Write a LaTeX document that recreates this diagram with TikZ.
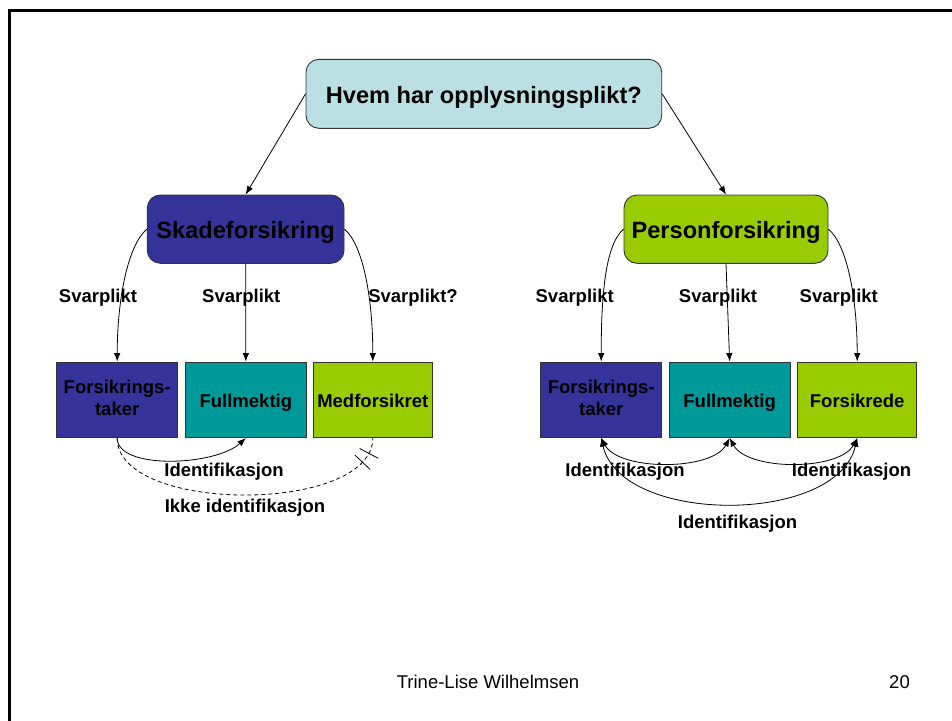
\documentclass[tikz,border=0pt]{standalone}
\usepackage{fontspec}
\setmainfont{Liberation Sans}
\usetikzlibrary{arrows.meta,decorations.markings}
\definecolor{topc}{HTML}{BBE0E3}
\definecolor{navyc}{HTML}{333399}
\definecolor{tealc}{HTML}{009999}
\definecolor{limec}{HTML}{99CC00}
\tikzset{
  box/.style={draw=black!80, line width=0.9pt, inner sep=0pt, align=center,
    font=\fontsize{18.5}{22}\selectfont\bfseries},
  onel/.style={text height=16pt, text depth=0pt},
  rbox/.style={box, rounded corners=13pt, text height=19.5pt, text depth=0pt,
    font=\fontsize{23.6}{26}\selectfont\bfseries},
  lbl/.style={inner sep=0pt, anchor=base, font=\fontsize{18.5}{22}\selectfont\bfseries},
  foot/.style={inner sep=0pt, anchor=base, font=\fontsize{18.5}{22}\selectfont},
  tip/.style={-{Latex[length=8.5pt,width=6.5pt]}},
  both/.style={{Latex[length=8.5pt,width=6.5pt]}-{Latex[length=8.5pt,width=6.5pt]}},
  conn/.style={line width=0.8pt},
}
\newcommand{\twol}[2]{\raisebox{-2pt}{\begin{tabular}{@{}c@{}}#1\\#2\end{tabular}}}
\begin{document}
\begin{tikzpicture}[x=1pt,y=-1pt]
\useasboundingbox (0,0) rectangle (952,720);
% frame
\draw[line width=3pt] (9,721) -- (9,10.3) -- (953,10.3);
% top
\node[rbox, fill=topc, minimum width=355.7pt, minimum height=69pt] (top) at (483.85,93.8) {Hvem har opplysningsplikt?};
\node[rbox, fill=navyc, minimum width=196.7pt, minimum height=68.3pt] (skade) at (245.65,229.15) {Skadeforsikring};
\node[rbox, fill=limec, minimum width=204pt, minimum height=68.3pt] (person) at (726,229.15) {Personforsikring};
% bottom boxes
\node[box, fill=navyc, minimum width=121pt, minimum height=75.6pt] (ft1) at (117.2,399.8) {\twol{Forsikrings-}{taker}};
\node[box, onel, fill=tealc, minimum width=121.7pt, minimum height=75.6pt] (fm1) at (245.85,399.8) {Fullmektig};
\node[box, onel, fill=limec, minimum width=119pt, minimum height=75.6pt] (mf1) at (372.8,399.8) {Medforsikret};
\node[box, fill=navyc, minimum width=121pt, minimum height=75.6pt] (ft2) at (601.2,399.8) {\twol{Forsikrings-}{taker}};
\node[box, onel, fill=tealc, minimum width=121.3pt, minimum height=75.6pt] (fm2) at (729.65,399.8) {Fullmektig};
\node[box, onel, fill=limec, minimum width=119pt, minimum height=75.6pt] (fs2) at (857.2,399.8) {Forsikrede};
% top connectors
\draw[conn, tip] (top.west) -- (skade.north);
\draw[conn, tip] (top.east) -- (person.north);
% svarplikt connectors
\draw[conn, tip] (skade.west) .. controls +(-19,16) and +(0,-62) .. (ft1.north);
\draw[conn, tip] (skade.south) -- (fm1.north);
\draw[conn, tip] (skade.east) .. controls +(19,16) and +(0,-62) .. (mf1.north);
\draw[conn, tip] (person.west) .. controls +(-19,16) and +(0,-62) .. (ft2.north);
\draw[conn, tip] (person.south) -- (fm2.north);
\draw[conn, tip] (person.east) .. controls +(19,16) and +(0,-62) .. (fs2.north);
% labels
\node[lbl] (s1) at (98,302.3) {Svarplikt};
\node[lbl] (s2) at (241.3,302.3) {Svarplikt};
\node[lbl] (s3) at (413,302.3) {Svarplikt?};
\node[lbl] (s4) at (574.7,302.3) {Svarplikt};
\node[lbl] (s5) at (718,302.3) {Svarplikt};
\node[lbl] (s6) at (838.8,302.3) {Svarplikt};
% identification left
\draw[conn, tip] (ft1.south) .. controls +(0,32) and +(-31,28) .. (fm1.south);
\draw[conn, dashed, dash pattern=on 4pt off 3pt,
  postaction={decorate, decoration={markings,
    mark=at position -16pt with {\draw[solid, line width=0.8pt] (0,-10.5) -- (0,10.5);},
    mark=at position -27pt with {\draw[solid, line width=0.8pt] (0,-10.5) -- (0,10.5);}}}]
  (ft1.south) .. controls +(0,76) and +(0,76) .. (mf1.south);
\node[lbl] (i1) at (224,476) {Identifikasjon};
\node[lbl] (i2) at (245,512.3) {Ikke identifikasjon};
% identification right
\draw[conn, both] (ft2.south) .. controls +(18,33) and +(-18,33) .. (fm2.south);
\draw[conn, both] (fm2.south) .. controls +(18,33) and +(-18,33) .. (fs2.south);
\draw[conn, both] (ft2.south) .. controls +(20,87) and +(-20,87) .. (fs2.south);
\node[lbl] (i3) at (625,476) {Identifikasjon};
\node[lbl] (i4) at (851.5,476) {Identifikasjon};
\node[lbl] (i5) at (737.5,528.3) {Identifikasjon};
% footer
\node[foot] (author) at (488,688) {Trine-Lise Wilhelmsen};
\node[foot] (page) at (899.5,688) {20};
\end{tikzpicture}
\end{document}
